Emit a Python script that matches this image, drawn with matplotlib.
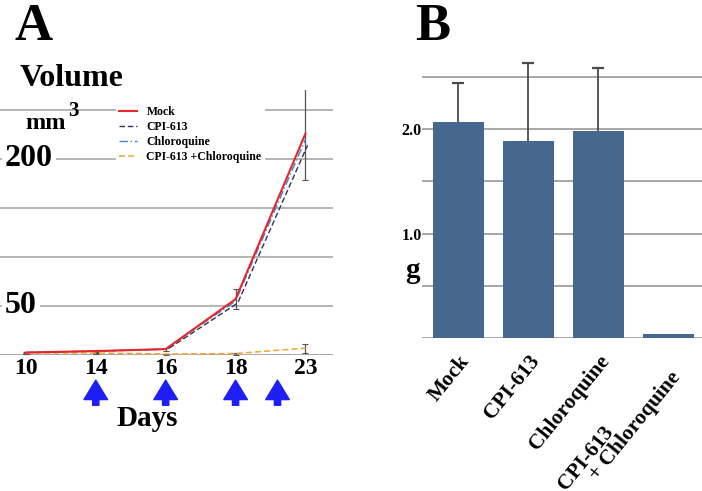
import numpy as np
import matplotlib.pyplot as plt
from matplotlib import transforms

plt.rcParams['font.family'] = ['Liberation Serif', 'DejaVu Serif']
plt.rcParams['font.weight'] = 'bold'

# ---- panel A data (tumour volume, mm3) ----
days = [10, 14, 16, 18, 23]
mock = [2.5, 4, 6, 57, 226]
cpi613 = [2.5, 4, 6, 53, 214]
chloroquine = [2.5, 4, 6, 55, 220]
combo = [2, 2, 1, 1.5, 7]
mock_err = [1, 1, 1.5, 10, 47]
combo_err = [0.5, 0.5, 0.5, 1, 4.5]
labelled_ticks = [50, 200]
treatment_days = [14, 16, 18, 21]

# ---- panel B data (tumour weight, g) ----
groups = ['Mock', 'CPI-613', 'Chloroquine', 'CPI-613\n     + Chloroquine']
weight = [2.07, 1.89, 1.98, 0.035]
weight_err = [0.37, 0.74, 0.60, 0.0]

fig = plt.figure(figsize=(7.02, 4.91), dpi=100)

# Panel A
axA = fig.add_axes([0.0, 0.277, 0.474, 0.539])
pos = np.arange(len(days))
grid_c = '#a0a0a0'
for v in np.arange(50, 260, 50):
    axA.axhline(v, color=grid_c, lw=1.1, zorder=0)
axA.axhline(0, color=grid_c, lw=1.3, zorder=0)

axA.errorbar(pos, mock, yerr=mock_err, fmt='none', ecolor='#555555', elinewidth=0.9,
             capsize=2, capthick=0.8, zorder=2)
axA.errorbar(pos, combo, yerr=combo_err, fmt='none', ecolor='#555555', elinewidth=0.9,
             capsize=2, capthick=0.8, zorder=2)
axA.plot(pos, mock, color='#e8262a', lw=1.5, label='Mock', zorder=4)
axA.plot(pos + 0.03, cpi613, color='#2a3550', lw=1.0, ls=(0, (4, 2)), label='CPI-613', zorder=3)
axA.plot(pos, chloroquine, color='#3a86d0', lw=1.0, ls=(0, (6, 2, 1, 2)), label='Chloroquine', zorder=3)
axA.plot(pos, combo, color='#f2a33a', lw=1.1, ls=(0, (4, 2)), label='CPI-613 +Chloroquine', zorder=3)

axA.set_xlim(-0.37, 4.39)
axA.set_ylim(0, 270)
for s in axA.spines.values():
    s.set_visible(False)
axA.set_yticks([])
axA.set_xticks(pos)
axA.set_xticklabels([str(d) for d in days], fontsize=17, fontweight='bold')
axA.tick_params(axis='x', length=0, pad=2)

# y labels with white background covering the grid
bt = transforms.blended_transform_factory(axA.transAxes, axA.transData)
for v in labelled_ticks:
    axA.text(0.015, v, str(v), transform=bt, ha='left', va='center', fontsize=23,
             fontweight='bold', bbox=dict(facecolor='white', edgecolor='none', pad=2), zorder=5)

leg = axA.legend(loc='upper left', bbox_to_anchor=(0.33, 0.975), frameon=True, fontsize=8.5,
                 handlelength=1.5, labelspacing=0.25, borderpad=0.3)
leg.get_frame().set_edgecolor('none')
leg.get_frame().set_facecolor('white')
leg.get_frame().set_alpha(1)
for t in leg.get_texts():
    t.set_fontweight('bold')

# treatment arrows
ba = transforms.blended_transform_factory(axA.transData, axA.transAxes)
arrow_pos = np.interp(treatment_days, days, pos)
for p in arrow_pos:
    axA.annotate('', xy=(p, -0.095), xytext=(p, -0.19), xycoords=ba, textcoords=ba,
                 arrowprops=dict(width=4.5, headwidth=17, headlength=14, color='#1f1ff5',
                                 shrink=0), annotation_clip=False)

# Panel B
axB = fig.add_axes([0.601, 0.3116, 0.399, 0.5746])
xb = np.arange(len(groups))
for v in np.arange(0, 2.6, 0.5):
    axB.axhline(v, color=grid_c, lw=1.3, zorder=0)
axB.bar(xb, weight, width=0.73, color='#46688e', zorder=2)
err_top = np.array(weight) + np.array(weight_err)
has_err = np.array(weight_err) > 0
axB.vlines(xb[has_err], np.array(weight)[has_err], err_top[has_err], color='#4a4a4a', lw=1.3, zorder=3)
axB.plot(xb[has_err], err_top[has_err], ls='none', marker='_', ms=9, mew=1.6, color='#4a4a4a', zorder=3)
axB.set_xlim(-0.52, 3.48)
axB.set_ylim(0, 2.7)
for s in axB.spines.values():
    s.set_visible(False)
axB.set_yticks([1.0, 2.0])
axB.set_yticklabels(['1.0', '2.0'], fontsize=11.5, fontweight='bold')
axB.tick_params(axis='y', length=0, pad=0)
axB.set_xticks(xb)
axB.set_xticklabels(groups, rotation=51, ha='right', rotation_mode='anchor',
                    fontsize=15.5, fontweight='bold', linespacing=0.85, multialignment='left')
axB.tick_params(axis='x', length=0, pad=10)
last = axB.get_xticklabels()[-1]
last.set_transform(last.get_transform() + transforms.ScaledTranslation(-0.13, -0.05, fig.dpi_scale_trans))

# panel letters and axis titles
fig.text(0.021, 1 - 40 / 491, 'A', fontsize=38, fontweight='bold', va='baseline')
fig.text(0.591, 1 - 40 / 491, 'B', fontsize=38, fontweight='bold', va='baseline')
fig.text(0.028, 0.84, 'Volume', fontsize=23, fontweight='bold', va='center')
fig.text(0.036, 1 - 129 / 491, 'mm', fontsize=17.5, fontweight='bold', va='baseline')
fig.text(0.097, 1 - 116 / 491, '3', fontsize=15, fontweight='bold', va='baseline')
fig.text(0.21, 0.148, 'Days', fontsize=21, fontweight='bold', va='center', ha='center')
fig.text(0.587, 0.45, 'g', fontsize=21, fontweight='bold', va='center', ha='center')

fig.savefig('out.png', dpi=100)
